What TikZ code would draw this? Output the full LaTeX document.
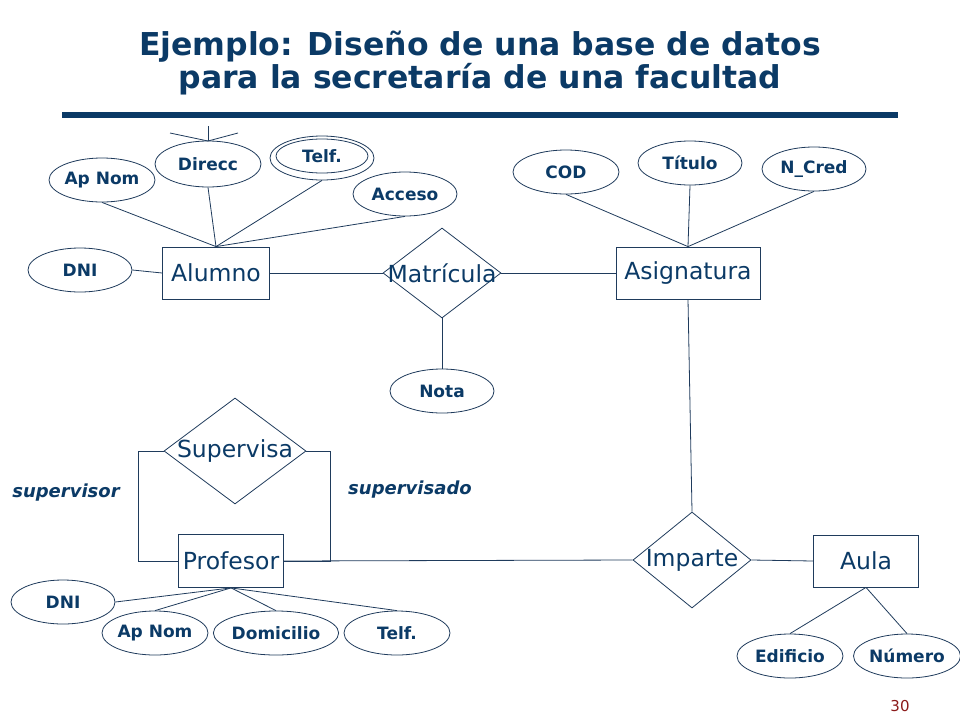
\documentclass[tikz,border=0pt]{standalone}
\usepackage{fontspec}
\setmainfont{DejaVu Sans}
\usetikzlibrary{shapes.geometric}
\definecolor{navy}{HTML}{0B3A66}
\definecolor{ln}{HTML}{1F3B5C}
\definecolor{pn}{HTML}{8B1A1A}
\begin{document}
\begin{tikzpicture}[x=1pt,y=-1pt,
  attr/.style={draw=ln,ellipse,inner sep=0,minimum width=104pt,minimum height=44pt,text=navy,font=\bfseries\fontsize{17}{17}\selectfont},
  ent/.style={draw=ln,rectangle,inner sep=0,text=navy,font=\fontsize{23.5}{23.5}\selectfont},
  rel/.style={draw=ln,diamond,inner sep=0,label={[text=navy,font=\fontsize{23.5}{23.5}\selectfont]center:#1}},
  con/.style={draw=ln,line width=0.8pt},
  every path/.style={line width=0.8pt}]
\useasboundingbox (0,0) rectangle (960,720);
\node[text=navy,font=\bfseries\fontsize{31.5}{33}\selectfont,align=center] (title) at (480,63) {Ejemplo: Diseño de una base de datos\\para la secretaría de una facultad};
\coordinate (r1) at (62,115); \coordinate (r2) at (898,115);
\draw[navy,line width=6pt] (r1) -- (r2);
% entities
\node[ent,minimum width=107pt,minimum height=52pt] (alumno) at (216,273) {Alumno};
\node[ent,minimum width=144pt,minimum height=52pt] (asig) at (688,273) {Asignatura};
\node[ent,minimum width=105pt,minimum height=53pt] (prof) at (231,561) {Profesor};
\node[ent,minimum width=105pt,minimum height=52pt] (aula) at (866,561) {Aula};
% relations
\node[rel=Matrícula,minimum width=118pt,minimum height=90pt] (matr) at (442,273) {};
\node[rel=Imparte,minimum width=118pt,minimum height=96pt] (imp) at (692,560) {};
\node[rel=Supervisa,minimum width=142pt,minimum height=106pt] (sup) at (235,451) {};
% alumno attrs
\node[attr,minimum width=106pt] (apnom) at (102,180) {Ap Nom};
\node[attr,minimum width=106pt,minimum height=46pt] (direcc) at (208,164) {Direcc};
\node[attr] (telf) at (322,158) {};
\node[draw=ln,ellipse,inner sep=0,minimum width=92pt,minimum height=34pt,text=navy,font=\bfseries\fontsize{17}{17}\selectfont] (telfi) at (322,156) {Telf.};
\node[attr] (acceso) at (405,194) {Acceso};
\node[attr] (dni) at (80,270) {DNI};
\node[attr] (nota) at (442,391) {Nota};
% asig attrs
\node[attr,minimum width=106pt] (cod) at (566,172) {COD};
\node[attr] (tit) at (690,163) {Título};
\node[attr] (ncred) at (814,169) {N\_Cred};
% aula attrs
\node[attr,minimum width=106pt] (edif) at (790,656) {Edificio};
\node[attr] (num) at (907,656) {Número};
% prof attrs
\node[attr] (dni2) at (63,602) {DNI};
\node[attr,minimum width=106pt] (apnom2) at (155,633) {Ap Nom};
\node[attr,minimum width=106pt] (domi) at (276,633) {Domicilio};
\node[attr,minimum width=106pt] (telf2) at (397,633) {Telf.};
% labels
\node[text=navy,font=\bfseries\itshape\fontsize{18}{18}\selectfont] (lsup) at (66,493) {supervisor};
\node[text=navy,font=\bfseries\itshape\fontsize{18}{18}\selectfont] (lsupd) at (410,490) {supervisado};
\node[text=pn,font=\fontsize{15}{15}\selectfont] (pg) at (900,706) {30};
% connectors
\draw[con] (alumno.east) -- (matr.west);
\draw[con] (matr.east) -- (asig.west);
\draw[con] (matr.south) -- (nota.north);
\draw[con] (apnom.south) -- (alumno.north);
\draw[con] (direcc.south) -- (alumno.north);
\draw[con] (telf.south) -- (alumno.north);
\draw[con] (acceso.south) -- (alumno.north);
\draw[con] (dni.east) -- (alumno.west);
\coordinate (d0) at (208,126); \coordinate (d1) at (170,133); \coordinate (d2) at (238,133); \coordinate (d3) at (208,141);
\draw[con] (d0) -- (d3); \draw[con] (d1) -- (d3) -- (d2);
\draw[con] (cod.south) -- (asig.north);
\draw[con] (tit.south) -- (asig.north);
\draw[con] (ncred.south) -- (asig.north);
\draw[con] (asig.south) -- (imp.north);
\draw[con] (imp.east) -- (aula.west);
\draw[con] (prof.east) -- (imp.west);
\draw[con] (aula.south) -- (edif.north);
\draw[con] (aula.south) -- (num.north);
\draw[con] (sup.west) -- ++(-25,0) |- (prof.west);
\draw[con] (sup.east) -- ++(24,0) |- (prof.east);
\draw[con] (prof.south) -- (dni2.east);
\draw[con] (prof.south) -- (apnom2.north);
\draw[con] (prof.south) -- (domi.north);
\draw[con] (prof.south) -- (telf2.north);
\end{tikzpicture}
\end{document}
